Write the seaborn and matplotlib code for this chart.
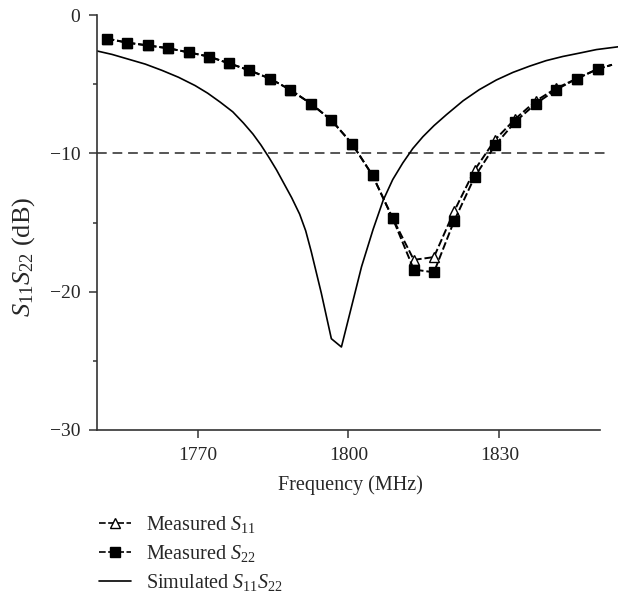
import matplotlib
matplotlib.use("Agg")
import matplotlib.pyplot as plt
import numpy as np
import pandas as pd
import seaborn as sns
from matplotlib.lines import Line2D

# Measured reflection data (MHz, dB); the final sample carries no marker
freq_meas = [1751.9, 1756.0, 1760.1, 1764.1, 1768.2, 1772.2, 1776.3, 1780.3,
             1784.4, 1788.4, 1792.5, 1796.6, 1800.7, 1804.8, 1808.8, 1813.0,
             1817.0, 1821.0, 1825.1, 1829.2, 1833.2, 1837.3, 1841.3, 1845.4,
             1849.6, 1852.4]
s11_meas = [-1.7, -2.0, -2.2, -2.4, -2.7, -3.0, -3.5, -4.0,
            -4.6, -5.4, -6.4, -7.6, -9.3, -11.6, -14.7, -17.7,
            -17.5, -14.2, -11.2, -9.0, -7.5, -6.2, -5.3, -4.6,
            -3.9, -3.6]
s22_meas = [-1.7, -2.0, -2.2, -2.4, -2.7, -3.0, -3.5, -4.0,
            -4.6, -5.4, -6.4, -7.6, -9.3, -11.6, -14.7, -18.4,
            -18.6, -14.9, -11.7, -9.4, -7.7, -6.4, -5.4, -4.6,
            -3.9, -3.6]

# Simulated S11/S22 response
freq_sim = [1750.0, 1753.0, 1756.3, 1759.6, 1762.9, 1766.2, 1769.5, 1772.0,
            1774.5, 1777.0, 1779.1, 1781.0, 1782.6, 1784.2, 1785.7, 1787.2,
            1788.7, 1790.3, 1791.5, 1792.6, 1794.6, 1796.6, 1798.6, 1800.6,
            1802.6, 1804.9, 1806.9, 1808.8, 1810.8, 1812.8, 1814.8, 1817.0,
            1819.5, 1822.8, 1826.0, 1829.4, 1832.7, 1836.0, 1839.3, 1842.6,
            1846.0, 1849.3, 1853.6]
s_sim = [-2.6, -2.85, -3.2, -3.55, -4.0, -4.5, -5.1, -5.65,
         -6.3, -7.0, -7.8, -8.6, -9.4, -10.3, -11.2, -12.2,
         -13.2, -14.4, -15.6, -17.1, -20.1, -23.4, -24.0, -21.1,
         -18.2, -15.5, -13.4, -11.9, -10.7, -9.65, -8.8, -8.0,
         -7.2, -6.2, -5.4, -4.7, -4.15, -3.7, -3.3, -3.0,
         -2.75, -2.5, -2.3]

threshold_db = -10
x_ticks = [1770, 1800, 1830]
y_ticks = [0, -10, -20, -30]

sns.set_style("ticks")
plt.rcParams["font.family"] = ["Liberation Serif", "DejaVu Serif"]
plt.rcParams["mathtext.fontset"] = "custom"
plt.rcParams["mathtext.rm"] = "Liberation Serif"
plt.rcParams["mathtext.it"] = "Liberation Serif:italic"

fig = plt.figure(figsize=(6.21, 5.95), dpi=100)
ax = fig.add_axes([97 / 621, 1 - 430 / 595, 521 / 621, 415 / 595])

meas = pd.DataFrame({"f": freq_meas, "s11": s11_meas, "s22": s22_meas})
sim = pd.DataFrame({"f": freq_sim, "s": s_sim})
n_marked = len(freq_meas) - 1

ax.hlines(threshold_db, 1750, 1851.6, colors="#555555", linestyles=(0, (5, 3)),
          linewidth=1.4, zorder=1)

sns.lineplot(data=sim, x="f", y="s", ax=ax, color="black", linewidth=1.2,
             sort=False, estimator=None, zorder=2)
sns.lineplot(data=meas, x="f", y="s11", ax=ax, color="black", linewidth=1.4,
             linestyle=(0, (4, 1.5)), marker="^", markersize=7.5,
             markerfacecolor="white", markeredgecolor="black",
             markeredgewidth=1.0, markevery=list(range(n_marked)),
             sort=False, estimator=None, zorder=3)
sns.lineplot(data=meas, x="f", y="s22", ax=ax, color="black", linewidth=1.4,
             linestyle=(0, (4, 1.5)), marker="s", markersize=7,
             markerfacecolor="black", markeredgecolor="black",
             markeredgewidth=1.0, markevery=list(range(n_marked)),
             sort=False, estimator=None, zorder=4)

ax.set_xlim(1750, 1853.6)
ax.set_ylim(-30, 0)
ax.set_xticks(x_ticks)
ax.set_yticks(y_ticks)
ax.set_yticks([-5, -15, -25], minor=True)
ax.spines["bottom"].set_bounds(1750, 1850)
sns.despine(ax=ax)
for side in ("left", "bottom"):
    ax.spines[side].set_color("#333333")
    ax.spines[side].set_linewidth(1.2)
ax.tick_params(axis="both", which="major", length=6, width=1.1,
               color="#333333", labelsize=14, pad=6)
ax.tick_params(axis="y", which="minor", length=3, width=1.1, color="#333333")

ax.set_xlabel("Frequency (MHz)", fontsize=14.5)
ax.set_ylabel(r"$S_{11}S_{22}$ (dB)", fontsize=19)
ax.xaxis.set_label_coords(0.486, -0.11)
ax.yaxis.set_label_coords(-0.115, 0.417)

handles = [
    Line2D([], [], color="black", linewidth=1.2, linestyle=(0, (4, 1.5)),
           marker="^", markersize=7.5, markerfacecolor="white",
           markeredgecolor="black"),
    Line2D([], [], color="black", linewidth=1.2, linestyle=(0, (4, 1.5)),
           marker="s", markersize=7, markerfacecolor="black",
           markeredgecolor="black"),
    Line2D([], [], color="black", linewidth=1.2),
]
labels = [r"Measured $S_{11}$", r"Measured $S_{22}$", r"Simulated $S_{11}S_{22}$"]
fig.legend(handles, labels, loc="upper left",
           bbox_to_anchor=(99 / 621, 1 - 514 / 595), frameon=False,
           fontsize=14.5, handlelength=1.6, handletextpad=0.75,
           labelspacing=0.4, borderpad=0, borderaxespad=0)

fig.savefig("out.png", dpi=100)
